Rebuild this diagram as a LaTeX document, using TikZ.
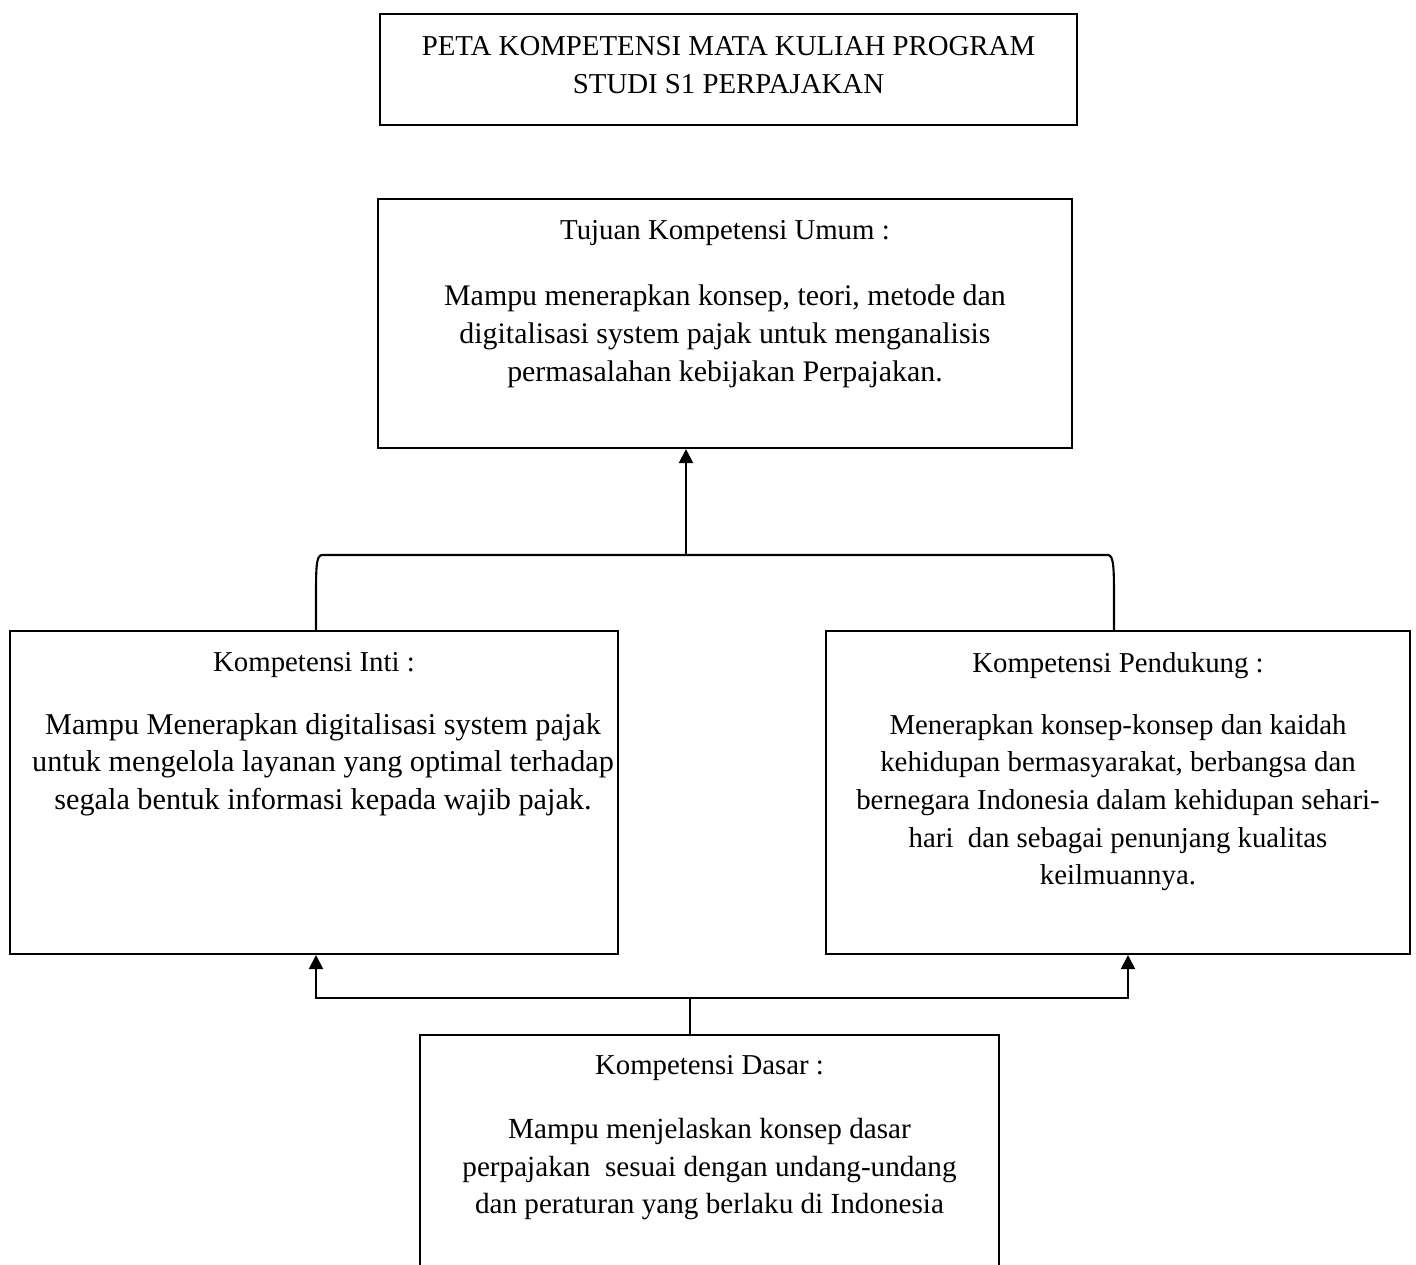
\documentclass[tikz,border=0pt]{standalone}
\usepackage{fontspec}
\setmainfont{Liberation Serif}
\usetikzlibrary{arrows.meta,positioning}

\begin{document}
\begin{tikzpicture}[
    font=\fontsize{8.2}{10.7}\selectfont,
    box/.style={draw, line width=0.6pt, inner sep=0pt},
    txt/.style={align=center, inner sep=0pt},
    isi/.style={txt, font=\fontsize{#1}{10.7}\selectfont},
    line/.style={line width=0.6pt},
    arrow/.style={line width=0.6pt, -{Triangle[length=1.4mm, width=1.4mm]}}
]
\useasboundingbox (0,0) rectangle (14.16,-12.65);

% boxes
\node[box, minimum width=6.97cm, minimum height=1.11cm] (judul) at (7.285,-0.695) {};
\node[box, minimum width=6.94cm, minimum height=2.49cm] (tujuan) at (7.25,-3.235) {};
\node[box, minimum width=6.08cm, minimum height=3.23cm] (inti) at (3.14,-7.925) {};
\node[box, minimum width=5.84cm, minimum height=3.23cm] (pendukung) at (11.18,-7.925) {};
\node[box, minimum width=5.79cm, minimum height=3.0cm] (dasar) at (7.095,-11.85) {};

% headings
\node[txt, below=0.23cm of judul.north] (judultxt) {PETA KOMPETENSI MATA KULIAH PROGRAM\\STUDI S1 PERPAJAKAN};
\node[txt, below=0.22cm of tujuan.north] (tujuanhd) {Tujuan Kompetensi Umum :};
\node[txt, below=0.22cm of inti.north] (intihd) {Kompetensi Inti :};
\node[txt, below=0.22cm of pendukung.north] (pendukunghd) {Kompetensi Pendukung :};
\node[txt, below=0.21cm of dasar.north] (dasarhd) {Kompetensi Dasar :};

% paragraphs
\node[isi=8.5, below=0.38cm of tujuanhd] (tujuantxt) {Mampu menerapkan konsep, teori, metode dan\\
    digitalisasi system pajak untuk menganalisis\\
    permasalahan kebijakan Perpajakan.};
\node[isi=8.6, below=0.34cm of intihd, xshift=0.09cm] (intitxt) {Mampu Menerapkan digitalisasi system pajak\\
    untuk mengelola layanan yang optimal terhadap\\
    segala bentuk informasi kepada wajib pajak.};
\node[isi=8.2, below=0.34cm of pendukunghd] (pendukungtxt) {Menerapkan konsep-konsep dan kaidah\\
    kehidupan bermasyarakat, berbangsa dan\\
    bernegara Indonesia dalam kehidupan sehari-\\
    hari\ \ dan sebagai penunjang kualitas\\
    keilmuannya.};
\node[isi=8.3, below=0.36cm of dasarhd] (dasartxt) {Mampu menjelaskan konsep dasar\\
    perpajakan\ \ sesuai dengan undang-undang\\
    dan peraturan yang berlaku di Indonesia};

% connectors
\coordinate (puncak) at (6.86,-5.55);
\coordinate (cabang) at (6.90,-9.98);

\draw[line] ([xshift=0.02cm]inti.north) -- ++(0,0.31)
    .. controls +(0,0.3) and +(-0.06,0) .. ([xshift=0.08cm]inti.north |- puncak)
    -- ([xshift=-0.10cm]pendukung.north |- puncak)
    .. controls +(0.06,0) and +(0,0.3) .. ([xshift=-0.04cm]pendukung.north |- 0,-6.0)
    -- ([xshift=-0.04cm]pendukung.north);
\draw[arrow] (puncak) -- (puncak |- tujuan.south);

\draw[line] ([xshift=-0.195cm]dasar.north) -- (cabang);
\draw[arrow] (cabang) -| ([xshift=0.02cm]inti.south);
\draw[arrow] (cabang) -| ([xshift=0.10cm]pendukung.south);
\end{tikzpicture}
\end{document}
